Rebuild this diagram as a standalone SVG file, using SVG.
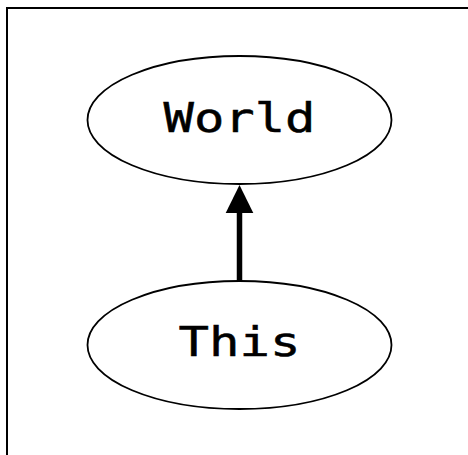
<svg xmlns="http://www.w3.org/2000/svg" width="468" height="455" viewBox="0 0 468 455">
<style>
.node ellipse{fill:#fff;stroke:#000;stroke-width:1.8}
.node text{font-family:"DejaVu Sans Mono",monospace;font-size:41px;fill:#000;stroke:#000;stroke-width:0.5;text-anchor:middle}
</style>
<rect x="0" y="0" width="468" height="455" fill="#fff"/>
<rect x="7" y="8" width="480" height="470" fill="none" stroke="#000" stroke-width="2"/>
<g id="node-world" class="node">
<ellipse cx="239.5" cy="120" rx="152" ry="64"/>
<text x="239.5" y="132" textLength="152" lengthAdjust="spacingAndGlyphs">World</text>
</g>
<g id="node-this" class="node">
<ellipse cx="239.5" cy="345" rx="152" ry="64"/>
<text x="239.5" y="356" textLength="122" lengthAdjust="spacingAndGlyphs">This</text>
</g>
<g id="connectors">
<line x1="239.5" y1="281" x2="239.5" y2="211" stroke="#000" stroke-width="5.5"/>
<polygon points="239.5,185 253.3,213 225.7,213" fill="#000"/>
</g>
</svg>
